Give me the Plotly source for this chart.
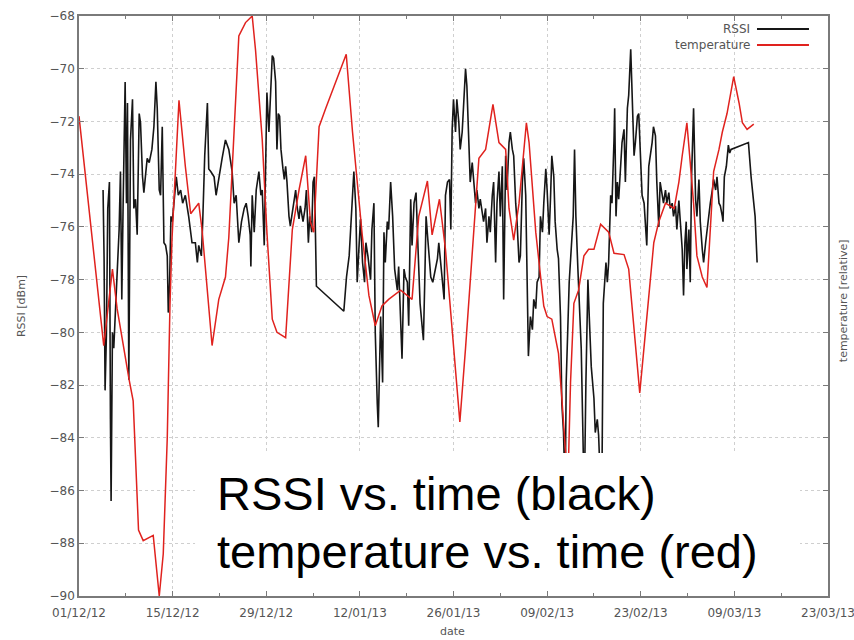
import plotly.graph_objects as go
import pandas as pd

# ---------------- data (days since 01/12/2012) ----------------
rssi_day = [
    3.6, 3.75, 3.9, 4.1, 4.3, 4.55, 4.7, 4.8, 5.0, 5.2, 5.5, 5.7, 6.0, 6.2, 6.4, 6.6, 6.9, 7.1, 7.25, 7.45,
    7.7, 8.0, 8.2, 8.45, 8.7, 9.0, 9.2, 9.5, 9.7, 10.0, 10.2, 10.5, 10.9, 11.2, 11.5, 11.7, 12.0, 12.2, 12.45, 12.7,
    12.95, 13.2, 13.35, 13.55, 13.75, 13.95, 14.2, 14.55, 14.85, 15.2, 15.5, 15.9, 16.4, 16.9, 17.4, 17.7, 17.9, 18.3, 18.5, 18.8,
    19.2, 19.4, 19.7, 20.2, 20.5, 20.9, 21.4, 21.9, 22.4, 22.9, 23.2, 23.5, 23.9, 24.3, 24.7, 25.0, 25.3, 25.6, 25.7, 25.9,
    26.2, 26.5, 26.9, 27.2, 27.4, 27.7, 27.9, 28.1, 28.4, 28.6, 28.9, 29.1, 29.4, 29.6, 29.8, 30.0, 30.2, 30.5, 30.7, 30.9,
    31.1, 31.4, 31.6, 31.9, 32.2, 32.4, 32.6, 32.9, 33.1, 33.5, 33.8, 34.0, 34.3, 34.5, 34.8, 35.0, 35.2, 35.4, 35.5, 39.6,
    40.0, 40.4, 40.8, 41.1, 41.4, 41.6, 41.9, 42.1, 42.4, 42.7, 42.9, 43.2, 43.6, 43.8, 44.1, 44.3, 44.6, 44.75, 45.1, 45.4,
    45.6, 45.8, 46.1, 46.3, 46.6, 46.9, 47.2, 47.6, 47.8, 48.1, 48.3, 48.6, 48.8, 49.1, 49.3, 49.6, 49.8, 50.1, 50.4, 50.7,
    51.0, 51.3, 51.5, 51.7, 51.9, 52.2, 52.6, 52.9, 53.2, 53.6, 53.8, 54.1, 54.4, 54.6, 54.8, 55.1, 55.4, 55.6, 55.8, 56.0,
    56.3, 56.5, 56.8, 57.0, 57.3, 57.5, 57.8, 58.0, 58.3, 58.5, 58.8, 59.0, 59.3, 59.5, 59.8, 60.0, 60.3, 60.5, 60.8, 61.0,
    61.3, 61.5, 61.8, 62.0, 62.3, 62.5, 62.8, 63.0, 63.3, 63.5, 63.8, 64.0, 64.3, 64.5, 64.8, 65.0, 65.3, 65.5, 65.8, 66.0,
    66.3, 66.5, 66.8, 67.0, 67.2, 67.5, 67.8, 68.0, 68.3, 68.5, 68.8, 69.0, 69.3, 69.5, 69.8, 70.0, 70.3, 70.5, 70.7, 71.0,
    71.2, 71.5, 71.7, 72.0, 72.2, 72.45, 72.7, 72.85, 73.1, 73.3, 73.6, 73.9, 74.1, 74.3, 74.6, 74.8, 75.1, 75.3, 75.55, 75.8,
    76.0, 76.1, 76.3, 76.6, 77.0, 77.2, 77.5, 77.7, 78.0, 78.2, 78.4, 78.6, 78.8, 79.0, 79.2, 79.5, 79.7, 80.0, 80.1, 80.3,
    80.5, 80.7, 81.0, 81.2, 81.5, 81.7, 82.0, 82.2, 82.5, 82.7, 83.0, 83.2, 83.5, 83.7, 84.0, 84.2, 84.5, 84.7, 84.9, 85.2,
    85.4, 85.7, 85.9, 86.2, 86.4, 86.7, 86.9, 87.2, 87.4, 87.7, 87.9, 88.2, 88.4, 88.7, 88.9, 89.2, 89.4, 89.7, 89.9, 90.2,
    90.4, 90.6, 90.8, 90.9, 91.2, 91.4, 91.6, 91.8, 91.9, 92.2, 92.4, 92.7, 92.9, 93.2, 93.4, 93.7, 93.9, 94.2, 94.4, 94.7,
    94.9, 95.2, 95.4, 95.7, 95.9, 96.2, 96.3, 96.5, 96.8, 97.1, 97.3, 97.5, 100.1, 100.5, 100.9, 101.1, 101.4,
]
rssi_dbm = [
    -74.6, -77.2, -82.2, -80.1, -75.3, -74.3, -83.3, -86.4, -80.0, -80.6, -78.9, -77.9, -76.1, -73.9, -78.75, -75.1, -70.5, -75.1, -71.3, -81.8,
    -72.7, -71.16, -75.3, -74.95, -76.3, -71.7, -72.05, -74.1, -74.7, -73.9, -73.4, -73.56, -73.06, -72.2, -70.5, -71.5, -74.6, -74.8, -72.2, -76.6,
    -76.7, -77.1, -79.25, -78.1, -75.6, -75.8, -74.95, -74.1, -74.8, -74.6, -75.1, -74.8, -75.6, -76.6, -76.6, -77.35, -76.7, -77.1, -75.8, -73.3,
    -71.3, -73.8, -73.9, -74.1, -74.8, -74.1, -73.4, -72.7, -73.06, -73.9, -75.1, -74.8, -76.6, -75.8, -75.3, -75.1, -75.6, -76.3, -77.5, -74.8,
    -76.2, -74.6, -73.9, -74.8, -74.6, -76.7, -73.3, -70.9, -72.4, -71.16, -69.5, -69.6, -70.5, -73.06, -71.7, -71.8, -73.06, -73.8, -74.2, -73.7,
    -74.3, -75.6, -75.96, -75.45, -74.8, -74.6, -75.2, -75.7, -75.2, -75.8, -75.3, -74.6, -76.6, -75.6, -76.2, -74.3, -74.1, -77.1, -78.25, -79.2,
    -77.9, -77.1, -74.95, -73.9, -75.3, -78.1, -76.6, -75.7, -77.35, -78.1, -76.6, -77.1, -78.0, -76.1, -75.1, -80.0, -82.7, -83.6, -79.4, -81.9,
    -76.2, -77.35, -75.8, -76.1, -74.3, -75.6, -77.6, -78.4, -77.5, -80.1, -81.0, -77.6, -77.9, -78.1, -79.75, -74.95, -76.7, -75.1, -74.7, -76.85,
    -78.9, -79.75, -80.3, -78.1, -75.6, -76.6, -77.9, -78.1, -77.7, -77.2, -76.6, -77.35, -78.0, -78.75, -74.8, -74.3, -74.2, -76.1, -72.3, -71.16,
    -72.4, -71.16, -72.05, -73.06, -72.4, -71.4, -70.0, -70.65, -73.3, -74.3, -73.56, -74.3, -75.1, -74.6, -75.3, -74.95, -75.6, -75.8, -75.3, -76.6,
    -75.6, -76.2, -74.8, -74.3, -77.35, -75.1, -73.9, -75.6, -73.7, -78.75, -73.3, -74.6, -72.8, -72.4, -73.06, -73.3, -75.1, -75.8, -77.35, -77.1,
    -74.3, -73.4, -74.8, -77.5, -80.9, -79.4, -79.9, -78.75, -79.1, -78.1, -77.9, -75.6, -76.2, -75.1, -73.8, -74.6, -76.3, -74.95, -73.3, -74.1,
    -75.8, -76.85, -77.2, -79.4, -82.7, -83.8, -86.3, -81.9, -79.4, -78.1, -76.85, -75.6, -73.06, -75.6, -77.6, -78.75, -80.6, -83.2, -86.5, -81.9,
    -78.9, -78.0, -79.4, -81.3, -82.5, -83.8, -83.3, -83.9, -86.0, -85.5, -78.9, -77.9, -77.35, -78.1, -77.35, -74.8, -75.1, -72.7, -71.5, -75.6,
    -74.3, -74.95, -73.7, -72.8, -72.3, -74.3, -71.5, -71.0, -69.26, -71.3, -73.3, -72.8, -71.8, -71.7, -73.7, -74.8, -75.1, -75.8, -76.7, -73.7,
    -73.4, -72.8, -72.2, -72.55, -74.3, -76.0, -74.3, -74.8, -75.1, -74.6, -75.1, -74.7, -75.3, -75.1, -75.6, -75.2, -76.1, -75.0, -75.8, -76.85,
    -78.6, -76.6, -75.8, -77.6, -76.1, -78.1, -74.1, -71.7, -71.5, -74.95, -75.6, -74.2, -75.8, -76.85, -77.35, -76.6, -76.1, -75.6, -75.1, -74.6,
    -74.2, -74.6, -74.1, -75.1, -75.2, -75.6, -75.8, -74.1, -73.7, -72.9, -73.2, -73.06, -72.8, -74.1, -75.1, -75.6, -77.35,
]

temp_day = [
    0.0, 3.7, 5.0, 5.7, 7.5, 8.1, 8.9, 9.6, 11.1, 12.0, 12.6, 13.2, 13.6, 13.9, 14.95, 15.9, 16.7, 17.9, 18.4, 19.9,
    20.9, 21.9, 22.4, 23.4, 23.9, 24.9, 25.9, 26.4, 27.4, 28.1, 28.9, 29.6, 30.9, 31.9, 32.9, 33.9, 34.6, 35.1, 35.9, 36.9,
    39.96, 40.9, 42.35, 43.35, 44.3, 45.3, 46.3, 48.1, 49.8, 50.8, 52.1, 52.8, 53.9, 54.8, 55.8, 56.95, 57.8, 59.3, 59.8, 60.8,
    61.9, 62.8, 63.8, 64.3, 65.0, 65.8, 66.9, 67.3, 68.3, 69.5, 70.0, 70.7, 71.7, 72.2, 72.8, 73.1, 73.5, 74.0, 74.7, 75.5,
    76.2, 77.0, 78.0, 79.2, 80.0, 81.5, 82.2, 83.0, 83.85, 84.7, 85.95, 86.7, 87.7, 89.0, 89.7, 90.2, 90.9, 91.4, 91.9, 92.4,
    93.2, 93.9, 94.4, 94.9, 95.7, 96.2, 96.9, 97.9, 98.7, 99.2, 99.9, 100.9,
]
temp_rel = [
    -71.8, -80.5, -77.6, -79.1, -81.8, -82.6, -87.5, -87.9, -87.7, -90.0, -88.4, -84.0, -79.0, -76.5, -71.2, -73.7, -75.5, -75.1, -76.1, -80.5,
    -78.75, -77.9, -76.4, -71.5, -68.76, -68.25, -68.0, -69.3, -72.7, -76.2, -79.5, -80.0, -80.2, -76.1, -74.6, -73.3, -75.8, -76.2, -72.2, -71.5,
    -69.45, -72.4, -76.3, -78.6, -79.75, -79.0, -78.75, -78.4, -78.75, -75.6, -74.26, -76.3, -74.95, -76.85, -80.0, -83.4, -80.6, -75.2, -73.4, -73.06,
    -71.35, -72.8, -73.06, -75.3, -76.5, -75.1, -72.05, -72.8, -76.2, -79.0, -79.4, -79.5, -80.8, -82.5, -84.7, -85.8, -81.9, -78.9, -78.4, -77.1,
    -76.85, -76.85, -75.9, -76.2, -77.0, -77.05, -77.6, -80.0, -82.3, -80.0, -76.6, -75.8, -75.1, -75.3, -74.3, -73.3, -72.05, -73.56, -75.1, -77.1,
    -77.9, -78.3, -76.1, -73.9, -73.06, -72.4, -71.7, -70.3, -71.3, -72.05, -72.3, -72.1,
]

y_ticks = list(range(-90, -67, 2))
x_start, x_end = "2012-12-01", "2013-03-23"

base = pd.Timestamp(x_start)
rssi_x = [base + pd.Timedelta(days=d) for d in rssi_day]
temp_x = [base + pd.Timedelta(days=d) for d in temp_day]

DAY = 86400000
axis_grey = "#7a7a7a"
text_grey = "#555555"
tick_font = dict(family="DejaVu Sans", size=12, color=text_grey)

fig = go.Figure()
fig.add_trace(go.Scatter(x=rssi_x, y=rssi_dbm, mode="lines", name="RSSI",
                         line=dict(color="#161616", width=1.6)))
fig.add_trace(go.Scatter(x=temp_x, y=temp_rel, mode="lines", name="temperature",
                         line=dict(color="#e0221e", width=1.5)))

fig.update_layout(
    width=854, height=640,
    margin=dict(l=79, r=26, t=16, b=44),
    paper_bgcolor="white", plot_bgcolor="white",
    showlegend=False,
    xaxis=dict(
        type="date", range=[x_start, x_end],
        tick0="2012-12-01", dtick=14 * DAY, tickformat="%d/%m/%y",
        ticks="inside", ticklen=5, tickcolor=axis_grey,
        showline=True, linecolor=axis_grey, linewidth=1.5, mirror="ticks",
        showgrid=True, gridcolor="#cfcfcf", griddash="dot", gridwidth=1,
        minor=dict(dtick=7 * DAY, tick0="2012-12-01", ticks="inside", ticklen=3,
                   tickcolor=axis_grey, showgrid=False),
        tickfont=tick_font, zeroline=False, ticklabelstandoff=5,
        ticklabeloverflow="allow", automargin=False,
    ),
    yaxis=dict(
        range=[-90, -68], tickvals=y_ticks,
        ticks="inside", ticklen=5, tickcolor=axis_grey,
        showline=True, linecolor=axis_grey, linewidth=1.5, mirror="ticks",
        showgrid=True, gridcolor="#cfcfcf", griddash="dot", gridwidth=1,
        tickfont=tick_font, zeroline=False, automargin=False,
    ),
)

# white box behind the big caption
fig.add_shape(type="rect", xref="paper", yref="paper",
              x0=0.1549, x1=0.9626, y0=0.01, y1=0.2466,
              fillcolor="white", line=dict(width=0), layer="above")

# legend (text left of line sample)
fig.add_shape(type="line", xref="paper", yref="paper", x0=0.9052, x1=0.9746,
              y0=0.9776, y1=0.9776, line=dict(color="#161616", width=2), layer="above")
fig.add_shape(type="line", xref="paper", yref="paper", x0=0.9052, x1=0.9746,
              y0=0.95, y1=0.95, line=dict(color="#e0221e", width=2), layer="above")

annots = [
    dict(text="RSSI", x=0.8985, y=0.9776, xanchor="right", yanchor="middle", font=tick_font),
    dict(text="temperature", x=0.8985, y=0.95, xanchor="right", yanchor="middle", font=tick_font),
    dict(text="RSSI [dBm]", x=-0.0774, y=0.5, textangle=-90, xanchor="center", yanchor="middle",
         font=dict(family="DejaVu Sans", size=11, color=text_grey)),
    dict(text="temperature [relative]", x=1.02, y=0.51, textangle=-90, xanchor="center", yanchor="middle",
         font=dict(family="DejaVu Sans", size=11, color=text_grey)),
    dict(text="date", x=0.4993, y=-0.062, xanchor="center", yanchor="middle",
         font=dict(family="DejaVu Sans", size=11, color=text_grey)),
    dict(text="RSSI vs. time (black)", x=0.181, y=0.176, xanchor="left", yanchor="middle",
         font=dict(family="Liberation Sans", size=47, color="black")),
    dict(text="temperature vs. time (red)", x=0.181, y=0.077, xanchor="left", yanchor="middle",
         font=dict(family="Liberation Sans", size=47, color="black")),
]
for a in annots:
    fig.add_annotation(xref="paper", yref="paper", showarrow=False, **a)

fig.write_html("out.html")
